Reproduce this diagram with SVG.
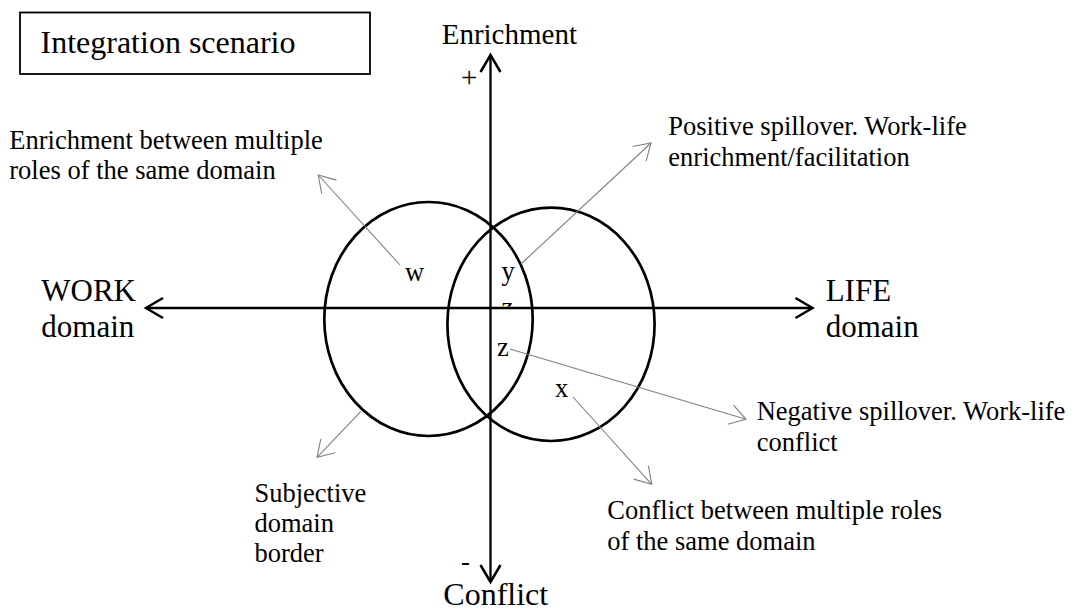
<svg xmlns="http://www.w3.org/2000/svg" width="1076" height="610" viewBox="0 0 1076 610">
  <style>
    text { font-family: "Liberation Serif", "Times New Roman", serif; fill: #000; }
    .note { font-size: 26.5px; }
    .axis-label { font-size: 31px; }
    .axis { stroke: #000; stroke-width: 2.3; fill: none; }
    .pointer { stroke: #808080; stroke-width: 1.1; fill: none; }
    .domain { stroke: #000; stroke-width: 2.7; fill: none; }
  </style>
  <defs>
    <!-- open V head for the two main axes -->
    <marker id="axis-head" markerUnits="userSpaceOnUse" viewBox="-20 -13 24 26" refX="0" refY="0" markerWidth="24" markerHeight="26" orient="auto-start-reverse" overflow="visible">
      <path d="M-17,-10 L0,0 L-17,10" fill="none" stroke="#000" stroke-width="2.5" stroke-linejoin="miter"/>
    </marker>
    <!-- thin grey open head for the annotation pointers -->
    <marker id="pointer-head" markerUnits="userSpaceOnUse" viewBox="-18 -12 20 24" refX="0" refY="0" markerWidth="20" markerHeight="24" orient="auto" overflow="visible">
      <path d="M-16,-10 L0,0 L-16,10" fill="none" stroke="#808080" stroke-width="1.1"/>
    </marker>
    <clipPath id="z-top">
      <rect x="495" y="300" width="25" height="6.6"/>
    </clipPath>
  </defs>

  <!-- scenario title -->
  <g id="title">
    <rect x="20" y="12.5" width="350" height="61.5" fill="#fff" stroke="#000" stroke-width="1.8"/>
    <text x="40.5" y="53.3" font-size="32">Integration scenario</text>
  </g>

  <!-- the two domains -->
  <g id="work-domain">
    <ellipse class="domain" cx="428.5" cy="319" rx="104.2" ry="117"/>
  </g>
  <g id="life-domain">
    <ellipse class="domain" cx="551" cy="324.3" rx="103.6" ry="116.7"/>
  </g>

  <!-- axes and annotation pointers -->
  <g id="connectors">
    <line class="axis" x1="490.5" y1="582" x2="490.5" y2="55" marker-start="url(#axis-head)" marker-end="url(#axis-head)"/>
    <line class="axis" x1="146" y1="308" x2="812.5" y2="308" marker-start="url(#axis-head)" marker-end="url(#axis-head)"/>
    <line class="pointer" x1="400" y1="265" x2="318.3" y2="175" marker-end="url(#pointer-head)"/>
    <line class="pointer" x1="521" y1="264" x2="651" y2="143" marker-end="url(#pointer-head)"/>
    <line class="pointer" x1="510" y1="349" x2="746" y2="419.3" marker-end="url(#pointer-head)"/>
    <line class="pointer" x1="573" y1="397" x2="651.7" y2="484.3" marker-end="url(#pointer-head)"/>
    <line class="pointer" x1="360.7" y1="411.7" x2="317" y2="457.3" marker-end="url(#pointer-head)"/>
  </g>

  <!-- axis labels -->
  <g id="enrichment-pole">
    <text x="441.7" y="44.3" font-size="29">Enrichment</text>
    <text x="461" y="87" font-size="29">+</text>
  </g>
  <g id="conflict-pole">
    <text x="443.3" y="605" font-size="32">Conflict</text>
    <text x="461" y="569.5" font-size="27">-</text>
  </g>
  <g id="work-label">
    <text class="axis-label" x="41.3" y="300.5">WORK</text>
    <text class="axis-label" x="41.3" y="337.3">domain</text>
  </g>
  <g id="life-label">
    <text class="axis-label" x="825.7" y="300.7">LIFE</text>
    <text class="axis-label" x="825.7" y="337.3">domain</text>
  </g>

  <!-- region markers -->
  <g id="region-w"><text class="note" x="405" y="281">w</text></g>
  <g id="region-y"><text class="note" x="501.5" y="280">y</text></g>
  <g id="region-z-hidden" clip-path="url(#z-top)"><text class="note" x="501.5" y="316">z</text></g>
  <g id="region-z"><text class="note" x="497" y="356">z</text></g>
  <g id="region-x"><text class="note" x="555" y="397">x</text></g>

  <!-- annotations -->
  <g id="note-enrichment-roles">
    <text class="note" x="9.3" y="149">Enrichment between multiple</text>
    <text class="note" x="9.3" y="179.3">roles of the same domain</text>
  </g>
  <g id="note-positive-spillover">
    <text class="note" x="668.3" y="135">Positive spillover. Work-life</text>
    <text class="note" x="668.3" y="166">enrichment/facilitation</text>
  </g>
  <g id="note-negative-spillover">
    <text class="note" x="756.7" y="420">Negative spillover. Work-life</text>
    <text class="note" x="756.7" y="451">conflict</text>
  </g>
  <g id="note-conflict-roles">
    <text class="note" x="607.3" y="519.3">Conflict between multiple roles</text>
    <text class="note" x="607.3" y="550">of the same domain</text>
  </g>
  <g id="note-border">
    <text class="note" x="254.5" y="501.7">Subjective</text>
    <text class="note" x="254.5" y="531.7">domain</text>
    <text class="note" x="254.5" y="561.7">border</text>
  </g>
</svg>
